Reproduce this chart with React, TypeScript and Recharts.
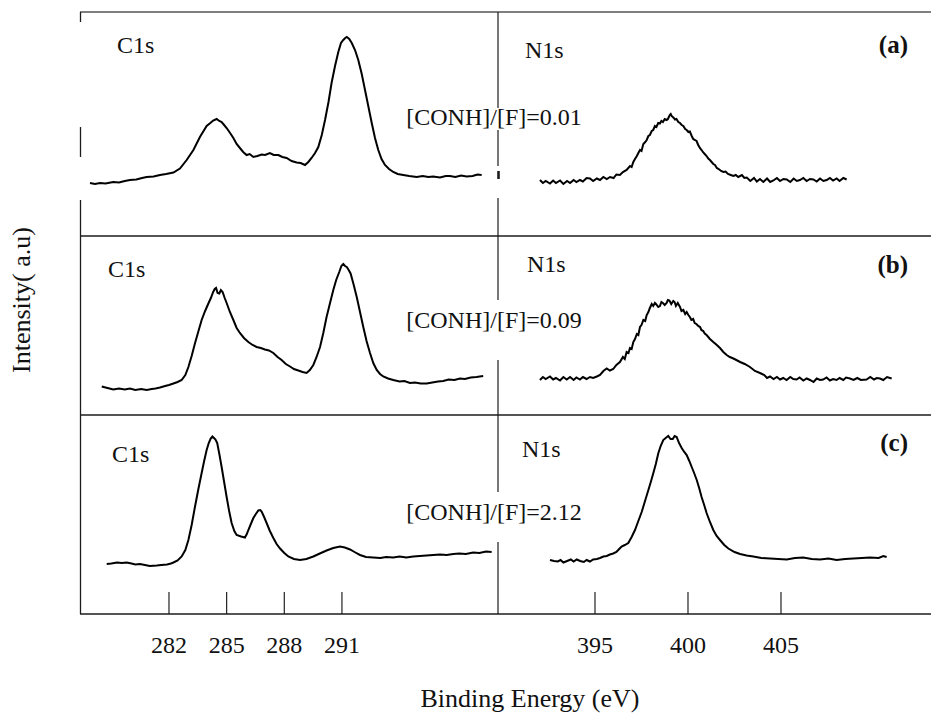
import { LineChart, Line, XAxis, YAxis } from "recharts";

// binding energy (eV), intensity (a.u.)
const c1sA: [number, number][] = [
  [277.89, 53], [278.15, 52], [278.41, 53], [278.7, 52.5], [279.1, 54], [279.4, 53.5], [279.7, 55], [279.97, 56],
  [280.3, 56.5], [280.6, 58], [280.84, 59], [281.2, 59.5], [281.53, 61], [281.85, 62], [282.23, 63.5], [282.57, 67.5],
  [282.92, 76], [283.27, 86], [283.61, 99], [283.96, 110], [284.15, 113], [284.3, 115.5], [284.48, 117], [284.62, 115],
  [284.74, 114], [284.87, 111], [285.0, 108], [285.18, 103], [285.35, 98], [285.52, 92], [285.69, 88], [285.86, 84],
  [286.04, 81], [286.2, 82], [286.39, 79], [286.6, 80], [286.82, 81.5], [287.0, 81], [287.25, 83], [287.45, 81],
  [287.69, 81], [287.9, 79], [288.12, 78], [288.38, 75], [288.64, 73.5], [288.85, 73], [289.08, 71], [289.25, 74],
  [289.42, 78], [289.6, 83], [289.77, 89], [289.95, 101], [290.12, 116], [290.3, 134], [290.46, 153], [290.64, 170],
  [290.81, 184], [290.95, 193], [291.07, 196], [291.17, 198], [291.25, 199], [291.38, 197], [291.51, 193], [291.68, 186],
  [291.85, 176], [292.03, 162], [292.2, 146], [292.38, 129], [292.55, 113], [292.72, 98], [292.89, 86], [293.06, 77],
  [293.24, 71], [293.45, 67], [293.67, 64], [293.9, 62], [294.19, 61], [294.5, 60], [294.89, 59], [295.2, 60],
  [295.5, 59], [295.75, 59.5], [296.1, 58.5], [296.4, 60], [296.62, 60], [296.9, 59], [297.2, 60.5], [297.49, 59.5],
  [297.8, 60], [298.05, 61.5], [298.27, 61],
];

const n1sA: [number, number][] = [
  [392.04, 56], [392.2, 53], [392.35, 55], [392.58, 52.5], [392.75, 55.5], [392.9, 53], [393.12, 55.5], [393.3, 52],
  [393.5, 55], [393.66, 53], [393.85, 56], [394.0, 54], [394.19, 56], [394.35, 54.5], [394.55, 58], [394.73, 57.5],
  [394.9, 55], [395.1, 57.5], [395.27, 56], [395.45, 59], [395.63, 57], [395.81, 59], [396.0, 58], [396.15, 61.5],
  [396.34, 61], [396.5, 64], [396.7, 66], [396.88, 70], [396.97, 69], [397.06, 74], [397.15, 77], [397.25, 80],
  [397.33, 83], [397.42, 86], [397.5, 85], [397.6, 92], [397.7, 94], [397.78, 96], [397.87, 100], [397.95, 101],
  [398.05, 105], [398.13, 106], [398.22, 110], [398.3, 109], [398.4, 113], [398.49, 112.5], [398.57, 115], [398.65, 114],
  [398.75, 117], [398.85, 116], [398.92, 117], [398.97, 119], [399.02, 121], [399.07, 122], [399.12, 120], [399.18, 119],
  [399.24, 118], [399.3, 116.5], [399.38, 117], [399.48, 114], [399.57, 113], [399.66, 111], [399.75, 110], [399.85, 107],
  [399.93, 106], [400.02, 104], [400.1, 104.5], [400.2, 100], [400.28, 97], [400.38, 96], [400.46, 95], [400.55, 91],
  [400.64, 88], [400.73, 86], [400.8, 84], [400.9, 82], [401.0, 80], [401.09, 77.5], [401.18, 76], [401.27, 74],
  [401.36, 72], [401.45, 71], [401.55, 68], [401.65, 67], [401.78, 65], [401.9, 64], [402.02, 64.5], [402.15, 62],
  [402.3, 61], [402.44, 60], [402.57, 61], [402.7, 59], [402.9, 61], [403.03, 58], [403.16, 58.5], [403.35, 55],
  [403.55, 58], [403.7, 54.5], [403.87, 57], [404.05, 54], [404.25, 57.5], [404.42, 54], [404.59, 55.5], [404.78, 58],
  [404.95, 55], [405.13, 57], [405.31, 56.5], [405.5, 54], [405.68, 57.5], [405.85, 55], [406.02, 56], [406.2, 58],
  [406.38, 55], [406.56, 57], [406.74, 56.5], [406.92, 54.5], [407.1, 57.5], [407.28, 55], [407.46, 56], [407.63, 58],
  [407.8, 55.5], [407.99, 57.5], [408.15, 55], [408.35, 58], [408.53, 56.5],
];

const c1sB: [number, number][] = [
  [278.5, 28.5], [278.8, 27], [279.1, 25.5], [279.4, 26.5], [279.7, 25.5], [279.97, 26.5], [280.25, 25], [280.55, 26],
  [280.84, 25], [281.1, 26], [281.3, 26.5], [281.53, 27.5], [281.8, 29], [282.0, 30], [282.23, 31.5], [282.45, 33],
  [282.66, 35], [282.85, 40], [283.01, 48], [283.18, 59], [283.35, 71.5], [283.52, 83], [283.7, 95], [283.88, 104],
  [284.05, 111.5], [284.18, 117], [284.3, 123], [284.38, 126], [284.45, 127], [284.53, 122], [284.62, 121.5], [284.7, 125],
  [284.79, 123], [284.9, 117], [285.0, 112], [285.17, 103], [285.35, 95], [285.52, 87], [285.69, 82], [285.9, 77],
  [286.13, 73], [286.35, 70], [286.56, 68], [286.78, 67], [286.99, 65.5], [287.2, 64.5], [287.43, 62], [287.65, 58],
  [287.86, 55], [288.08, 51], [288.3, 48.5], [288.5, 46], [288.73, 44.5], [288.95, 43], [289.16, 42], [289.33, 45],
  [289.51, 50], [289.68, 58], [289.86, 68], [290.03, 82], [290.2, 98], [290.38, 112], [290.55, 125], [290.7, 135],
  [290.86, 143], [290.97, 149], [291.07, 151], [291.16, 149], [291.25, 148], [291.35, 145], [291.45, 141.5], [291.6, 131],
  [291.77, 118], [291.94, 103], [292.11, 88], [292.28, 74], [292.46, 62], [292.63, 52], [292.81, 45], [292.98, 41],
  [293.15, 38.5], [293.4, 36.5], [293.67, 35], [294.0, 33.5], [294.25, 34], [294.54, 32], [294.8, 32.5], [295.1, 31.5],
  [295.41, 31.5], [295.7, 32.5], [296.0, 33.5], [296.27, 34], [296.55, 35.5], [296.85, 35], [297.14, 36.5], [297.4, 36],
  [297.7, 37.5], [298.0, 38], [298.35, 39],
];

const n1sB: [number, number][] = [
  [392.04, 35], [392.2, 38], [392.35, 36], [392.58, 38.5], [392.75, 35.5], [392.9, 37], [393.12, 34.5], [393.3, 38],
  [393.48, 35.5], [393.66, 38], [393.85, 35], [394.0, 37.5], [394.19, 35.5], [394.35, 38], [394.55, 36], [394.73, 38],
  [394.9, 37], [395.1, 38.5], [395.27, 40], [395.45, 44], [395.63, 46.5], [395.8, 44.5], [395.98, 46], [396.15, 50],
  [396.34, 53], [396.5, 58], [396.6, 56], [396.7, 63], [396.8, 62], [396.88, 67], [396.97, 66], [397.06, 73],
  [397.15, 76], [397.25, 81], [397.33, 80], [397.42, 88], [397.5, 90], [397.6, 95], [397.7, 94], [397.78, 100],
  [397.87, 103], [397.95, 107], [398.05, 111], [398.13, 109], [398.22, 112], [398.3, 110.5], [398.4, 108], [398.49, 109],
  [398.57, 113], [398.65, 112], [398.75, 110], [398.85, 112], [398.92, 115], [399.0, 114.5], [399.1, 111], [399.21, 114],
  [399.28, 113], [399.35, 109], [399.45, 112], [399.57, 108], [399.65, 104], [399.75, 105], [399.85, 101], [399.93, 103],
  [400.02, 100], [400.1, 98], [400.18, 95], [400.28, 96], [400.36, 92], [400.45, 91], [400.55, 89], [400.65, 88],
  [400.72, 85], [400.82, 84], [400.9, 81.5], [401.0, 80], [401.18, 76], [401.36, 73], [401.55, 70], [401.72, 67],
  [401.9, 63], [402.08, 60], [402.25, 58], [402.44, 56.5], [402.6, 55], [402.8, 53], [403.05, 51], [403.33, 48],
  [403.6, 44], [403.87, 42], [404.1, 40], [404.25, 37], [404.41, 38.5], [404.6, 36], [404.78, 38], [404.95, 35.5],
  [405.12, 37], [405.3, 35], [405.5, 38], [405.66, 36], [405.84, 35.5], [406.0, 37.5], [406.2, 34.5], [406.38, 36.5],
  [406.56, 35], [406.75, 33], [406.92, 36.5], [407.1, 35], [407.27, 35.5], [407.45, 37.5], [407.63, 34.5], [407.8, 36],
  [407.99, 35], [408.15, 37], [408.35, 35], [408.5, 37.5], [408.71, 36.5], [408.9, 35], [409.1, 37], [409.3, 35],
  [409.6, 35.5], [409.8, 38], [410.0, 35.5], [410.15, 37], [410.32, 36.5], [410.5, 35], [410.7, 38], [410.95, 36.5],
];

const c1sC: [number, number][] = [
  [278.76, 50], [279.0, 50.5], [279.3, 51.5], [279.55, 51], [279.8, 51.5], [280.05, 50.5], [280.25, 49.5], [280.49, 50],
  [280.75, 49], [281.0, 48], [281.36, 48.5], [281.6, 49], [281.9, 49.5], [282.1, 50.5], [282.23, 51.5], [282.45, 53.5],
  [282.66, 57.5], [282.85, 64], [283.01, 74], [283.18, 89], [283.35, 107], [283.52, 124], [283.7, 141], [283.83, 153],
  [283.96, 164], [284.07, 171], [284.17, 175.5], [284.26, 177.5], [284.34, 176], [284.42, 174.5], [284.51, 171], [284.62, 160],
  [284.74, 147], [284.87, 132], [285.0, 117], [285.13, 103], [285.26, 91], [285.4, 83], [285.52, 79], [285.75, 77.5],
  [285.95, 76.5], [286.05, 80], [286.13, 84], [286.26, 90], [286.39, 96], [286.52, 100], [286.65, 103.5], [286.75, 104],
  [286.82, 102.5], [286.95, 97], [287.08, 91], [287.25, 83], [287.43, 76], [287.6, 70], [287.78, 65.5], [288.0, 61],
  [288.21, 57.5], [288.5, 55], [288.82, 54], [289.15, 55], [289.51, 57.5], [289.85, 60.5], [290.2, 63.5], [290.55, 66],
  [290.9, 67.5], [291.15, 66.5], [291.42, 64.5], [291.7, 61.5], [291.94, 59], [292.25, 57], [292.63, 56.5], [293.0, 56],
  [293.3, 57], [293.67, 56.5], [294.0, 57.5], [294.35, 56.5], [294.71, 57.5], [295.05, 58], [295.4, 58.5], [295.75, 59],
  [296.1, 59.5], [296.45, 59], [296.79, 60], [297.1, 60.5], [297.45, 60], [297.83, 61.5], [298.15, 61], [298.5, 62.5],
  [298.79, 62],
];

const n1sC: [number, number][] = [
  [392.58, 54], [392.8, 53], [393.0, 52.5], [393.15, 54], [393.3, 51.5], [393.5, 53], [393.7, 54.5], [393.85, 52.5],
  [394.02, 54.5], [394.2, 53], [394.4, 52], [394.55, 54], [394.73, 52.5], [394.9, 54.5], [395.1, 55], [395.27, 56],
  [395.45, 57.5], [395.63, 58], [395.8, 59.5], [395.98, 60.5], [396.15, 62], [396.3, 65], [396.43, 67.5], [396.6, 69],
  [396.79, 71], [396.97, 77], [397.15, 84], [397.33, 93], [397.51, 102], [397.69, 113], [397.87, 124], [398.0, 132],
  [398.13, 140.5], [398.27, 150], [398.4, 160.5], [398.53, 168], [398.67, 174], [398.8, 176], [398.94, 178], [399.06, 175],
  [399.18, 175], [399.28, 178], [399.39, 177], [399.52, 171], [399.66, 166], [399.8, 162], [399.93, 159], [400.07, 153],
  [400.2, 147], [400.33, 141], [400.47, 134], [400.6, 126], [400.73, 117], [400.87, 109], [401.0, 101], [401.18, 92],
  [401.36, 84], [401.54, 78], [401.72, 74], [401.95, 69], [402.17, 65.5], [402.5, 62], [402.8, 60], [403.15, 58.5],
  [403.51, 57.5], [403.95, 56], [404.41, 55.5], [404.85, 55], [405.31, 54.5], [405.75, 56], [406.2, 56.5], [406.65, 55],
  [407.1, 54.5], [407.55, 55.5], [407.99, 54], [408.45, 55], [408.89, 55.5], [409.35, 56], [409.78, 56.5], [410.25, 56],
  [410.5, 58], [410.68, 57],
];

const c1sTicks = [282, 285, 288, 291];
const n1sTicks = [395, 400, 405];
const panelLetters = ["(a)", "(b)", "(c)"];
const ratios = ["[CONH]/[F]=0.01", "[CONH]/[F]=0.09", "[CONH]/[F]=2.12"];

const C1S_DOMAIN: [number, number] = [277.37, 299.12];
const N1S_DOMAIN: [number, number] = [389.785, 413.065];
const FONT = "'Liberation Serif', 'Times New Roman', serif";

// panel frame rows
const rows = [
  { top: 12, height: 224, c1s: c1sA, n1s: n1sA, c1sY: 53, n1sY: 58, letterY: 53, ratioY: 125 },
  { top: 236, height: 179, c1s: c1sB, n1s: n1sB, c1sY: 277, n1sY: 272, letterY: 273, ratioY: 328 },
  { top: 415, height: 199, c1s: c1sC, n1s: n1sC, c1sY: 462, n1sY: 457, letterY: 451, ratioY: 520 },
];
const c1sLabelX = [117, 108, 112];
const n1sLabelX = [525, 527, 522];

function EnergyTick(props: any) {
  const { x, y, payload } = props;
  return (
    <g>
      <line x1={x} x2={x} y1={y - 22} y2={y} stroke="#222" strokeWidth={1.2} />
      <text x={x} y={y + 39} textAnchor="middle" fontFamily={FONT} fontSize={24} fill="#111">
        {payload.value}
      </text>
    </g>
  );
}

function Spectrum({ data, domain, left, top, width, height, ticks }: any) {
  const pts = data.map(([e, i]: [number, number]) => ({ e, i }));
  const axisH = ticks ? 50 : 0;
  return (
    <div style={{ position: "absolute", left, top }}>
      <LineChart width={width} height={height + axisH} data={pts} margin={{ top: 0, right: 0, bottom: 0, left: 0 }}>
        <XAxis
          dataKey="e"
          type="number"
          domain={domain}
          allowDataOverflow
          hide={!ticks}
          ticks={ticks}
          interval={0}
          height={ticks ? axisH : 30}
          axisLine={false}
          tickLine={false}
          tickSize={0}
          tickMargin={0}
          tick={<EnergyTick />}
        />
        <YAxis type="number" domain={[0, height]} hide allowDataOverflow />
        <Line dataKey="i" type="linear" stroke="#000" strokeWidth={2} dot={false} isAnimationActive={false} />
      </LineChart>
    </div>
  );
}

export default function App() {
  const frame = "#1c1c1c";
  return (
    <div style={{ position: "absolute", left: 0, top: 0, width: 931, height: 714, background: "#fff", overflow: "hidden" }}>
      {rows.map((r, k) => (
        <div key={k}>
          <Spectrum data={r.c1s} domain={C1S_DOMAIN} left={80} top={r.top} width={418} height={r.height}
            ticks={k === 2 ? c1sTicks : undefined} />
          <Spectrum data={r.n1s} domain={N1S_DOMAIN} left={498} top={r.top} width={433} height={r.height}
            ticks={k === 2 ? n1sTicks : undefined} />
        </div>
      ))}
      <svg width={931} height={714} style={{ position: "absolute", left: 0, top: 0, pointerEvents: "none" }}>
        {/* frame */}
        <line x1={80} x2={931} y1={12} y2={12} stroke="#555" strokeWidth={1.3} />
        <line x1={80} x2={931} y1={236} y2={236} stroke={frame} strokeWidth={1.5} />
        <line x1={80} x2={931} y1={415} y2={415} stroke={frame} strokeWidth={1.5} />
        <line x1={80} x2={931} y1={614} y2={614} stroke={frame} strokeWidth={1.6} />
        <line x1={80.5} x2={80.5} y1={12} y2={22} stroke={frame} strokeWidth={1.3} />
        <line x1={80.5} x2={80.5} y1={127} y2={157} stroke={frame} strokeWidth={1.3} />
        <line x1={80.5} x2={80.5} y1={200} y2={614} stroke={frame} strokeWidth={1.3} />
        <line x1={498} x2={498} y1={12} y2={108} stroke={frame} strokeWidth={1.2} />
        <line x1={498} x2={498} y1={130} y2={166} stroke={frame} strokeWidth={1.2} />
        <line x1={498.5} x2={498.5} y1={171} y2={179} stroke={frame} strokeWidth={2.6} />
        <line x1={498} x2={498} y1={198} y2={300} stroke={frame} strokeWidth={1.2} />
        <line x1={498} x2={498} y1={360} y2={492} stroke={frame} strokeWidth={1.2} />
        <line x1={498} x2={498} y1={542} y2={614} stroke={frame} strokeWidth={1.2} />

        {rows.map((r, k) => (
          <g key={k} fontFamily={FONT} fill="#111">
            <text x={c1sLabelX[k]} y={r.c1sY} fontSize={24}>C1s</text>
            <text x={n1sLabelX[k]} y={r.n1sY} fontSize={24}>N1s</text>
            <text x={908} y={r.letterY} fontSize={25} fontWeight="bold" textAnchor="end">{panelLetters[k]}</text>
            <text x={494} y={r.ratioY} fontSize={24} textAnchor="middle">{ratios[k]}</text>
          </g>
        ))}

        <text x={530} y={707} fontFamily={FONT} fontSize={26} textAnchor="middle" fill="#111">Binding Energy (eV)</text>
        <text x={30} y={300} fontFamily={FONT} fontSize={26} textAnchor="middle" fill="#111"
          transform="rotate(-90 30 300)">Intensity( a.u)</text>
      </svg>
    </div>
  );
}
